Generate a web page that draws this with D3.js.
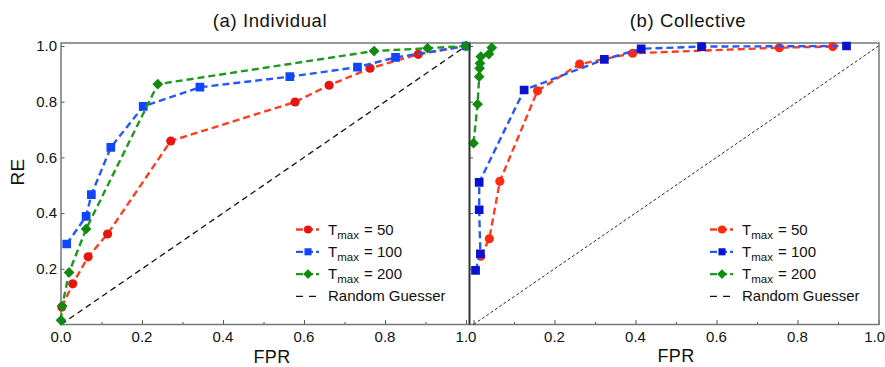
<!DOCTYPE html>
<html><head><meta charset="utf-8">
<script src="https://cdn.jsdelivr.net/npm/d3@7"></script>
<style>
html,body{margin:0;padding:0;background:#fff;}
svg{display:block;font-family:"Liberation Sans",Arial,Helvetica,sans-serif;}
</style></head>
<body>
<svg id="c" width="885" height="367"></svg>
<script>
// ---- data ----
const xTicks = [0, 0.2, 0.4, 0.6, 0.8, 1.0];
const xMinorTicks = [0.1, 0.3, 0.5, 0.7, 0.9];
const yTicks = [0.2, 0.4, 0.6, 0.8, 1.0];
const tmaxValues = ["50", "100", "200"];

// (a) Individual
const fprA50  = [0.002, 0.029, 0.067, 0.115, 0.271, 0.578, 0.662, 0.763, 0.882, 1.0];
const reA50   = [0.063, 0.146, 0.243, 0.325, 0.659, 0.799, 0.859, 0.920, 0.970, 1.0];
const fprA100 = [0.014, 0.062, 0.075, 0.123, 0.203, 0.343, 0.565, 0.732, 0.826, 1.0];
const reA100  = [0.289, 0.388, 0.466, 0.636, 0.783, 0.852, 0.890, 0.924, 0.959, 1.0];
const fprA200 = [0.0, 0.003, 0.020, 0.062, 0.239, 0.773, 0.905, 1.0];
const reA200  = [0.015, 0.066, 0.187, 0.343, 0.863, 0.982, 0.992, 1.0];

// (b) Collective
const fprB50  = [0.018, 0.039, 0.065, 0.158, 0.262, 0.393, 0.755, 0.887];
const reB50   = [0.245, 0.308, 0.514, 0.839, 0.935, 0.974, 0.994, 0.998];
const fprB100 = [0.005, 0.017, 0.014, 0.014, 0.125, 0.323, 0.414, 0.563, 0.921];
const reB100  = [0.194, 0.254, 0.412, 0.510, 0.842, 0.952, 0.990, 0.998, 1.0];
const fprB200 = [0.000, 0.010, 0.014, 0.015, 0.016, 0.018, 0.038, 0.045];
const reB200  = [0.651, 0.791, 0.890, 0.920, 0.938, 0.962, 0.971, 0.994];

const randomX = [0, 1];
const randomY = [0, 1];

// ---- drawing ----
const svg = d3.select("#c");
const zip = (xs, ys) => xs.map((x, i) => [x, ys[i]]);

const lineCol = ["#ff3d1f", "#2358ff", "#1c9a1c"];
const markColA = ["#e8140f", "#1046ff", "#118a11"];
const markColB = ["#ff2a10", "#0a14d0", "#118a11"];
const symTypes = [d3.symbolCircle, d3.symbolSquare, d3.symbolSquare];
const symRot = [0, 0, 45];

const panels = [
  {title: "(a) Individual", titleX: 270, fprX: 272, fprY: 363,
   left: 61, right: 469.5, xd: [0, 1.0086],
   series: [zip(fprA50, reA50), zip(fprA100, reA100), zip(fprA200, reA200)],
   markCol: markColA, rgDash: "6,4", rgW: 1.3,
   legX: 296, legY: 229.5, labels: true},
  {title: "(b) Collective", titleX: 688, fprX: 676, fprY: 362,
   left: 469.5, right: 879, xd: [-0.0099, 1.0012],
   series: [zip(fprB50, reB50), zip(fprB100, reB100), zip(fprB200, reB200)],
   markCol: markColB, rgDash: "3,2.2", rgW: 0.9,
   legX: 710, legY: 229.5, labels: false}
];

const plotTop = 43, plotBottom = 324.5;
const y = d3.scaleLinear().domain([0, 1.0108]).range([plotBottom, plotTop]);

panels.forEach((p, pi) => {
  const x = d3.scaleLinear().domain(p.xd).range([p.left, p.right]);
  const g = svg.append("g");
  const clipId = "clip" + pi;
  svg.append("clipPath").attr("id", clipId).append("rect")
    .attr("x", p.left - 6).attr("y", plotTop - 6)
    .attr("width", p.right - p.left + 12).attr("height", plotBottom - plotTop + 12);

  const xAxis = d3.axisBottom(x).tickValues(xTicks).tickSize(-4.5).tickFormat("");
  const xMinor = d3.axisBottom(x).tickValues(xMinorTicks).tickSize(-2.5).tickFormat("");
  const yAxis = d3.axisLeft(y).tickValues(yTicks).tickSize(-3.5).tickFormat("");
  [xAxis, xMinor].forEach(ax => {
    const a = g.append("g").attr("transform", `translate(0,${plotBottom})`).call(ax);
    a.select(".domain").remove();
    a.selectAll("line").attr("stroke", "#555").attr("stroke-width", 1);
  });
  const ya = g.append("g").attr("transform", `translate(${p.left},0)`).call(yAxis);
  ya.select(".domain").remove();
  ya.selectAll("line").attr("stroke", "#555").attr("stroke-width", 1);

  const xl = g.append("g").selectAll("text").data(pi === 0 ? xTicks : xTicks.slice(1)).join("text")
    .attr("x", d => x(d)).attr("y", 341.7).attr("text-anchor", "middle")
    .attr("font-size", 15).attr("fill", "#111").text(d => d.toFixed(1));
  if (pi === 1) {
    xl.filter(d => d === 1).attr("x", 885).attr("text-anchor", "end");
  }
  if (p.labels) {
    g.append("g").selectAll("text").data(yTicks).join("text")
      .attr("x", 57).attr("y", d => y(d) + 5.3).attr("text-anchor", "end")
      .attr("font-size", 15).attr("fill", "#111").text(d => d.toFixed(1));
  }

  g.append("rect").attr("x", p.left).attr("y", plotTop)
    .attr("width", p.right - p.left).attr("height", plotBottom - plotTop)
    .attr("fill", "none").attr("stroke", "#777").attr("stroke-width", 1.5);

  svg.append("text").attr("x", p.titleX).attr("y", 26.5).attr("text-anchor", "middle")
    .attr("font-size", 18.5).attr("letter-spacing", 0.6).attr("fill", "#111").text(p.title);
  svg.append("text").attr("x", p.fprX).attr("y", p.fprY).attr("text-anchor", "middle")
    .attr("font-size", 18).attr("letter-spacing", 0.4).attr("fill", "#111").text("FPR");

  const plot = svg.append("g").attr("clip-path", `url(#${clipId})`);
  plot.append("path").datum(zip(randomX, randomY))
    .attr("d", d3.line().x(d => x(d[0])).y(d => y(d[1])))
    .attr("fill", "none").attr("stroke", "#111").attr("stroke-width", p.rgW)
    .attr("stroke-dasharray", p.rgDash);

  const lineGen = d3.line().x(d => x(d[0])).y(d => y(d[1]));
  p.series.forEach((s, si) => {
    plot.append("path").datum(s).attr("d", lineGen)
      .attr("fill", "none").attr("stroke", lineCol[si]).attr("stroke-width", 2.4)
      .attr("stroke-dasharray", "7,4");
    const size = [66, 76, 58][si];
    const symGen = d3.symbol().type(symTypes[si]).size(size);
    plot.append("g").selectAll("path").data(s).join("path")
      .attr("transform", d => `translate(${x(d[0])},${y(d[1])}) rotate(${symRot[si]})`)
      .attr("d", symGen).attr("fill", p.markCol[si]);
  });

  const leg = svg.append("g");
  tmaxValues.forEach((v, si) => {
    const ly = p.legY + si * 22.3;
    leg.append("line").attr("x1", p.legX).attr("x2", p.legX + 23)
      .attr("y1", ly).attr("y2", ly).attr("stroke", lineCol[si]).attr("stroke-width", 2.3)
      .attr("stroke-dasharray", "7,3");
    leg.append("path").attr("transform", `translate(${p.legX + 12},${ly}) rotate(${symRot[si]})`)
      .attr("d", d3.symbol().type(symTypes[si]).size([52, 50, 46][si])()).attr("fill", p.markCol[si]);
    const t = leg.append("text").attr("x", p.legX + 32).attr("y", ly + 5)
      .attr("font-size", 15).attr("fill", "#111");
    t.append("tspan").text("T");
    t.append("tspan").attr("font-size", 11.5).attr("dy", 4).text("max");
    t.append("tspan").attr("dy", -4).attr("dx", 1).text(" = " + v);
  });
  const ly = p.legY + 3 * 22.3;
  leg.append("line").attr("x1", p.legX).attr("x2", p.legX + 23)
    .attr("y1", ly).attr("y2", ly).attr("stroke", "#111").attr("stroke-width", 1.4)
    .attr("stroke-dasharray", "7,6");
  leg.append("text").attr("x", p.legX + 32).attr("y", ly + 5)
    .attr("font-size", 15).attr("fill", "#111").text("Random Guesser");
});

// shared dark border between the panels
svg.append("line").attr("x1", 469.5).attr("x2", 469.5)
  .attr("y1", plotTop).attr("y2", plotBottom)
  .attr("stroke", "#333").attr("stroke-width", 1.6);

svg.append("text").attr("transform", "translate(24,172) rotate(-90)")
  .attr("text-anchor", "middle").attr("font-size", 19).attr("letter-spacing", 0.4)
  .attr("fill", "#111").text("RE");
</script>
</body></html>
